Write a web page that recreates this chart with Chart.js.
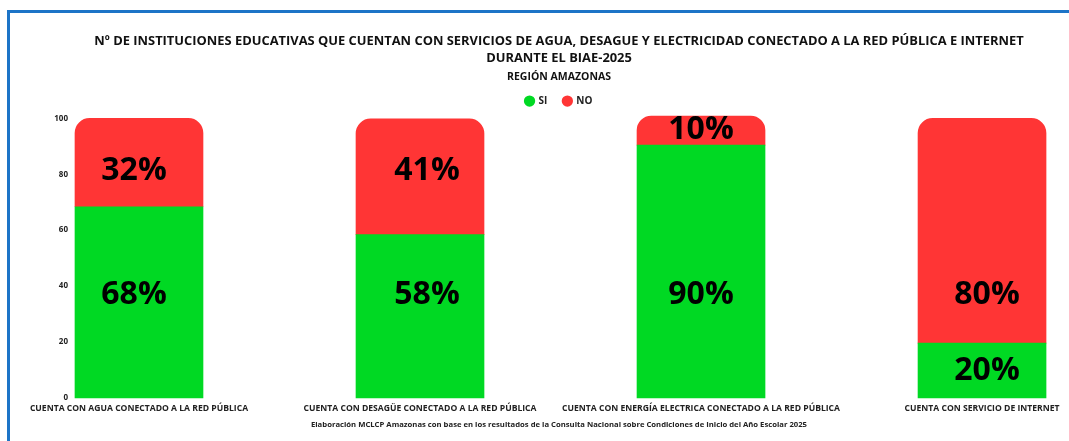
<!DOCTYPE html>
<html>
<head>
<meta charset="utf-8">
<script src="https://cdn.jsdelivr.net/npm/chart.js@4/dist/chart.umd.min.js"></script>
<style>
  html, body { margin: 0; padding: 0; background: #fff; }
  #wrap { position: relative; width: 1069px; height: 441px; overflow: hidden; }
  #frame { position: absolute; left: 7px; top: 10px; width: 1200px; height: 600px; border-left: 3px solid #1d74c7; border-top: 3px solid #1d74c7; }
  #chart { position: absolute; left: 0; top: 0; }
  #footer { position: absolute; left: 0; width: 1118px; top: 419px; text-align: center; font: bold 7.7px "Open Sans", sans-serif; color: #222; }
</style>
</head>
<body>
<div id="wrap">
  <div id="frame"></div>
  <canvas id="chart" width="1100" height="441"></canvas>
  <div id="footer">Elaboración MCLCP Amazonas con base en los resultados de la Consulta Nacional sobre Condiciones de Inicio del Año Escolar 2025</div>
</div>
<script>
// --- Datos ---
const categorias = [
    'CUENTA CON AGUA CONECTADO A LA RED PÚBLICA',
    'CUENTA CON DESAGÜE CONECTADO A LA RED PÚBLICA',
    'CUENTA CON ENERGÍA ELECTRICA CONECTADO A LA RED PÚBLICA',
    'CUENTA CON SERVICIO DE INTERNET'
];
const valoresSi = [68.4, 58.4, 90.4, 19.6];
const valoresNo = [31.6, 41.4, 10.4, 80.4];
const ticksY = [0, 20, 40, 60, 80, 100];

// --- Estilo ---
const VERDE = '#00d923';
const ROJO = '#ff3535';
// altura (en unidades del eje Y) donde va cada etiqueta, como en el original
const anclaEtiquetas = [
    [38, 38, 38, 11],     // SI
    [82.5, 82.5, 97, 38]  // NO
];
const desplazX = [-5, 7, 0, 5];

// Etiquetas grandes dentro de cada segmento
const etiquetasPlugin = {
    id: 'etiquetas',
    afterDatasetsDraw(chart) {
        const ctx = chart.ctx;
        const yScale = chart.scales.y;
        ctx.save();
        ctx.font = 'bold 32px "Open Sans", sans-serif';
        ctx.fillStyle = '#000';
        ctx.textAlign = 'center';
        ctx.textBaseline = 'middle';
        chart.data.datasets.forEach((ds, di) => {
            chart.getDatasetMeta(di).data.forEach((bar, i) => {
                const y = yScale.getPixelForValue(anclaEtiquetas[di][i]) + 3.5;
                ctx.fillText(Math.round(ds.data[i].y) + '%', bar.x + desplazX[i], y);
            });
        });
        ctx.restore();
    }
};

// el canvas es más ancho que la ventana para que el título quede centrado como en el original
const chart = new Chart(document.getElementById('chart').getContext('2d'), {
    type: 'bar',
    data: {
        datasets: [
            { label: 'SI', data: valoresSi.map((v, i) => ({ x: i, y: v })), backgroundColor: VERDE, borderRadius: 0, clip: false },
            { label: 'NO', data: valoresNo.map((v, i) => ({ x: i, y: v })), backgroundColor: ROJO,
              borderRadius: { topLeft: 15, topRight: 15 }, borderSkipped: 'start', clip: false }
        ]
    },
    options: {
        responsive: false,
        animation: false,
        barThickness: 128,
        layout: { padding: { left: 32, right: 14, top: 0, bottom: 28 } },
        scales: {
            x: {
                type: 'linear',
                stacked: true,
                offset: false,
                min: -0.2384,
                max: 3.370,
                grid: { display: false, drawTicks: false },
                border: { display: false },
                afterBuildTicks: (s) => { s.ticks = categorias.map((c, i) => ({ value: i })); },
                afterFit: (s) => { s.height = 15; },
                ticks: {
                    autoSkip: false,
                    maxRotation: 0,
                    padding: 5,
                    color: '#222',
                    font: { family: 'Open Sans', size: 8.6, weight: 'bold' },
                    callback: (v) => categorias[v] || ''
                }
            },
            y: {
                stacked: true,
                min: 0,
                max: 100.8,
                grid: { display: false, drawTicks: false },
                border: { display: false },
                afterBuildTicks: (s) => { s.ticks = ticksY.map(v => ({ value: v })); },
                afterFit: (s) => { s.width = 40; },
                ticks: {
                    padding: 4,
                    color: '#222',
                    font: { family: 'Open Sans', size: 8, weight: 'bold' }
                }
            }
        },
        plugins: {
            title: {
                display: true,
                text: ['Nº DE INSTITUCIONES EDUCATIVAS QUE CUENTAN CON SERVICIOS DE AGUA, DESAGUE Y ELECTRICIDAD CONECTADO A LA RED PÚBLICA E INTERNET', 'DURANTE EL BIAE-2025'],
                color: '#111',
                font: { family: 'Open Sans', size: 12.9, weight: 'bold', lineHeight: 1.36 },
                padding: { top: 32.5, bottom: 0 }
            },
            subtitle: {
                display: true,
                text: 'REGIÓN AMAZONAS',
                color: '#111',
                font: { family: 'Open Sans', size: 10.5, weight: 'bold', lineHeight: 0.62 },
                padding: { top: 6, bottom: 0 }
            },
            legend: {
                position: 'top',
                labels: {
                    usePointStyle: true,
                    pointStyle: 'circle',
                    boxWidth: 8,
                    boxHeight: 8,
                    padding: 16,
                    color: '#222',
                    font: { family: 'Open Sans', size: 10, weight: 'bold' }
                }
            },
            tooltip: { enabled: false }
        }
    },
    plugins: [etiquetasPlugin]
});
</script>
</body>
</html>
